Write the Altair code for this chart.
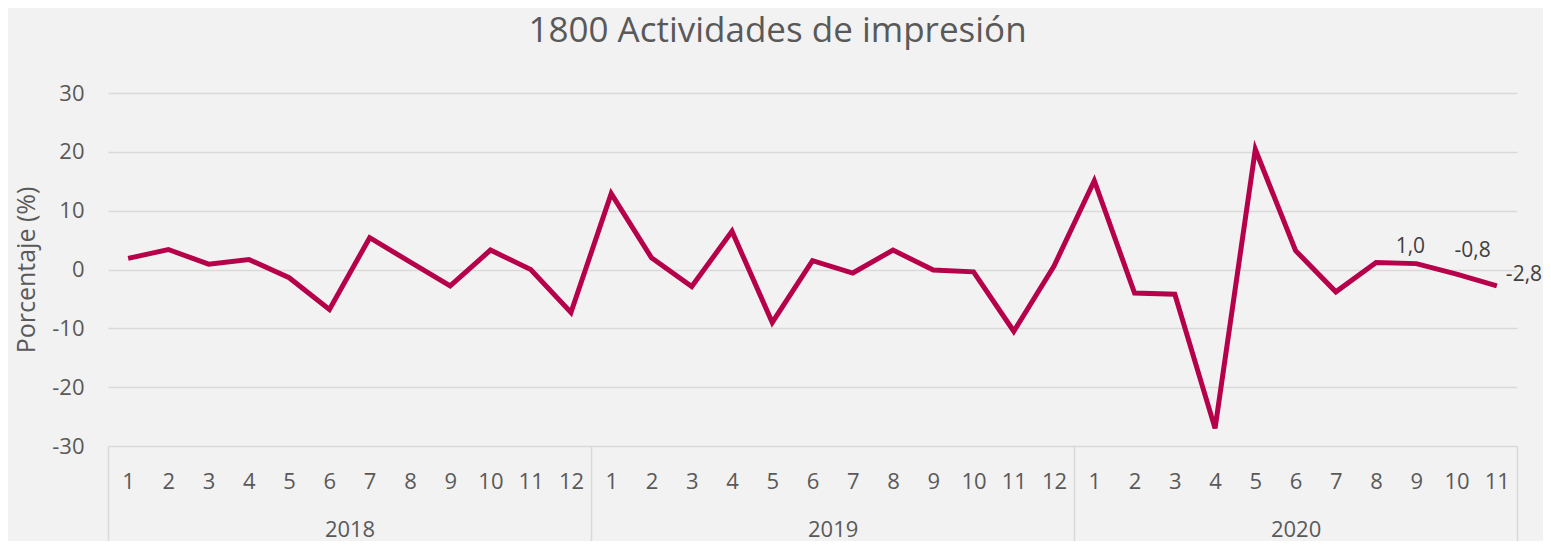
import altair as alt
import pandas as pd

# ---- data ----
year_names = ["2018", "2019", "2020"]
months_per_year = [12, 12, 11]
values = [
    1.9, 3.4, 0.9, 1.7, -1.4, -6.8, 5.4, 1.3, -2.8, 3.3, 0.0, -7.3,      # 2018
    12.9, 2.0, -2.9, 6.5, -9.0, 1.5, -0.6, 3.3, -0.1, -0.4, -10.5, 0.6,  # 2019
    15.1, -4.0, -4.2, -27.0, 20.4, 3.2, -3.8, 1.2, 1.0, -0.8, -2.8,      # 2020
]
label_texts = ["1,0", "-0,8", "-2,8"]   # data labels on the last three points

months, years = [], []
for y, n in zip(year_names, months_per_year):
    months += list(range(1, n + 1))
    years += [y] * n
idx = list(range(len(values)))
df = pd.DataFrame({"idx": idx, "month": months, "year": years, "value": values})
df["label"] = ""
for k, t in enumerate(label_texts):
    df.loc[len(values) - len(label_texts) + k, "label"] = t

# axis helpers (group boundaries / centres in index units)
bounds = [-0.5]
for n in months_per_year:
    bounds.append(bounds[-1] + n)
centers = [(bounds[i] + bounds[i + 1]) / 2 for i in range(len(year_names))]

FONT = "Open Sans"
TXT = "#595959"
GRID = "#d9d9d9"
LINE = "#B7004A"
FS = 22

month_expr = "[" + ",".join(f"'{m}'" for m in months) + "][datum.value]"
year_expr = "{" + ",".join(f"'{c:g}':'{y}'" for c, y in zip(centers, year_names)) + "}[''+datum.value]"

xscale = alt.Scale(domain=[bounds[0], bounds[-1]], nice=False, zero=False)

y_enc = alt.Y(
    "value:Q",
    scale=alt.Scale(domain=[-30, 30], nice=False),
    axis=alt.Axis(
        values=[-30, -20, -10, 0, 10, 20, 30],
        labelExpr="'' + datum.value",
        title="Porcentaje (%)",
        titleFontSize=25, titleFont=FONT, titleColor=TXT, titleFontWeight="normal",
        titlePadding=12,
        labelFontSize=FS, labelFont=FONT, labelColor=TXT, labelPadding=24,
        grid=True, gridColor=GRID, gridWidth=1.5,
        domain=False, ticks=False,
    ),
)

base = alt.Chart(df)

line = base.mark_line(color=LINE, strokeWidth=5, strokeJoin="miter").encode(
    x=alt.X("idx:Q", scale=xscale, axis=alt.Axis(
        values=idx, labelExpr=month_expr, title=None, orient="bottom",
        labelFontSize=FS, labelFont=FONT, labelColor=TXT, labelPadding=25,
        ticks=False, domain=False, grid=False, labelFlush=False, labelOverlap=False,
    )),
    y=y_enc,
)

seps = base.mark_point(opacity=0).encode(
    x=alt.X("idx:Q", scale=xscale, axis=alt.Axis(
        values=bounds, labels=False, title=None, orient="bottom",
        ticks=True, tickSize=95, tickColor=GRID, tickWidth=1.5,
        domain=False, grid=False,
    )),
    y=y_enc,
)

yearax = base.mark_point(opacity=0).encode(
    x=alt.X("idx:Q", scale=xscale, axis=alt.Axis(
        values=centers, labelExpr=year_expr, title=None, orient="bottom",
        labelFontSize=FS, labelFont=FONT, labelColor=TXT, labelPadding=73,
        ticks=False, domain=False, grid=False, labelFlush=False, labelOverlap=False,
    )),
    y=y_enc,
)

def lab(i, dx, dy, align):
    return base.transform_filter(f"datum.idx == {i}").mark_text(
        font=FONT, fontSize=21, color="#404040", dx=dx, dy=dy, align=align, baseline="middle"
    ).encode(
        x=alt.X("idx:Q", scale=xscale, axis=None),
        y=y_enc,
        text="label:N",
    )

n = len(values)
labels = lab(n - 3, -6, -17, "center") + lab(n - 2, 16, -23, "center") + lab(n - 1, 9, -11, "left")

chart = alt.layer(line, seps, yearax, labels).resolve_axis(x="independent").properties(
    width=1409,
    height=353,
    autosize=alt.AutoSizeParams(type="none"),
    padding={"left": 100, "top": 85, "right": 26, "bottom": 95},
    background="#f2f2f2",
    title=alt.TitleParams(
        "1800 Actividades de impresión", font=FONT, fontSize=35, fontWeight="normal",
        color=TXT, anchor="middle", dx=-35, offset=33,
    ),
).configure_view(stroke=None)

chart.save("out.html", embed_options={"renderer": "svg", "actions": False})
